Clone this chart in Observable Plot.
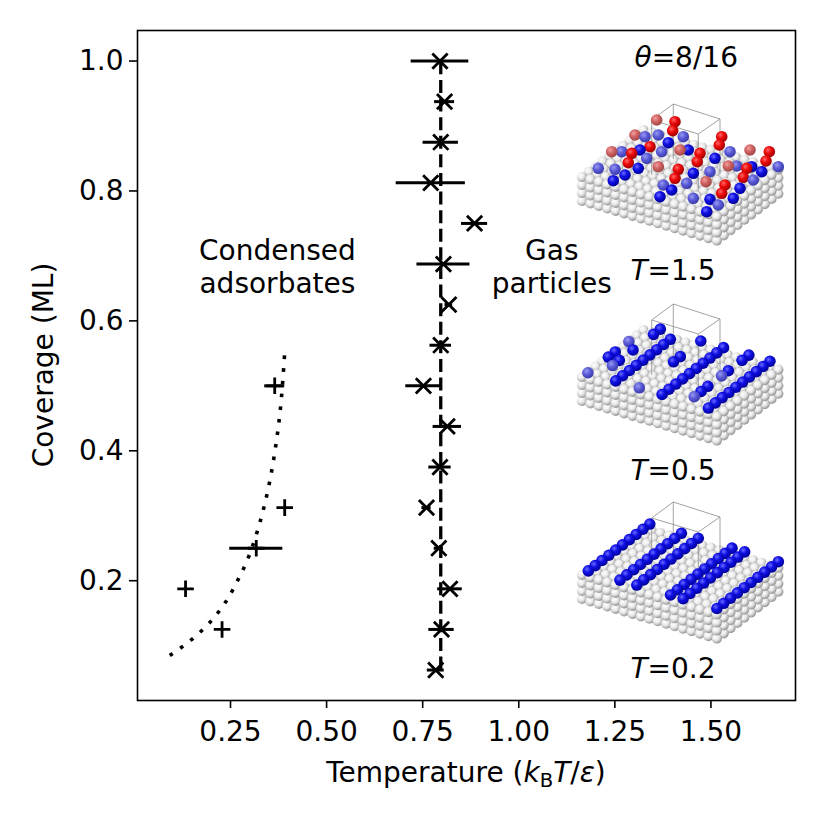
<!DOCTYPE html>
<html><head><meta charset="utf-8">
<script src="https://cdn.jsdelivr.net/npm/d3@7"></script>
<script src="https://cdn.jsdelivr.net/npm/@observablehq/plot@0.6"></script>
<style>body{margin:0;background:#fff;} #chart{width:830px;height:830px;}</style>
</head><body><div id="chart"></div>
<script>
// ---- data ----
const gasTheta = [1.0, 0.9375, 0.875, 0.8125, 0.75, 0.6875, 0.625, 0.5625, 0.5, 0.4375, 0.375, 0.3125, 0.25, 0.1875, 0.125, 0.0625];
const gasT     = [0.795, 0.807, 0.797, 0.771, 0.885, 0.804, 0.818, 0.797, 0.752, 0.814, 0.795, 0.760, 0.792, 0.821, 0.799, 0.784];
const gasErr   = [0.075, 0.026, 0.046, 0.090, 0.034, 0.069, 0.010, 0.028, 0.046, 0.037, 0.029, 0.012, 0.012, 0.032, 0.033, 0.022];
const condTheta = [0.5, 0.3125, 0.25, 0.1875, 0.125];
const condT     = [0.365, 0.391, 0.317, 0.133, 0.228];
const condErr   = [0.026, 0, 0.069, 0, 0];
const curveT     = [0.092, 0.146, 0.195, 0.237, 0.270, 0.298, 0.329, 0.352, 0.369, 0.381, 0.391];
const curveTheta = [0.085, 0.108, 0.135, 0.167, 0.202, 0.238, 0.295, 0.353, 0.413, 0.472, 0.551];
const meanT = 0.797;
const lineTheta = [0.0625, 1.0];
const xTicks = [0.25, 0.5, 0.75, 1.0, 1.25, 1.5];
const yTicks = [0.2, 0.4, 0.6, 0.8, 1.0];
const insetLabels = ["1.5", "0.5", "0.2"];

// inset adsorbates: T=1.5 as local pixel offsets [dx, dy, faded]
const hotBlue = [[16.3,-8.7,1],[31.3,3.7,0],[33,-7.7,1],[39.7,-25.3,1],[43,-2,0],[56.3,-8.7,0],[58,-27,0],[64.7,-18.7,1],[63,-40.3,1],[76.3,-42,1],[78,19.7,0],[81.3,8,1],[86.3,-34.3,0],[79.7,-25.3,1],[89.7,13,0],[104.7,6.3,1],[101.3,-40.3,1],[106.3,-27,0],[111.3,-3.7,0],[111.3,21.3,1],[124.7,34.7,0],[128,22.3,0],[133,-18.7,0],[136.3,28,1],[128,-5.3,1],[148,-25.3,1],[151.3,21.3,0],[154.7,-11,1],[158,11.3,0],[169.7,-10.3,0],[171.3,3,1],[179.7,-5.3,0],[196.3,-10.3,1]];
const hotRed = [[74.7,-57,1],[93,-55.3,0],[90.7,-46.3,0],[139.7,-40.3,0],[137.3,-32,0],[68,-30.3,0],[53,-42,1],[46.3,-14.3,0],[49.7,-23.7,0],[29.7,-25.3,1],[98,-27,1],[118,-23.7,0],[115.3,-15.3,0],[96.3,-7.7,0],[93,1.3,0],[76.3,-10.3,1],[124,4.7,1],[143,8,0],[139.7,16.3,0],[146.3,-11,1],[164.7,-8.7,0],[161.3,0.3,0],[168,-27,1],[187.3,-25.3,0],[184,-16,0]];
// T=0.5: lattice sites [a, [b...], faded b list]
const midRows = [
  [0.7, [0, 3, 4, 6], [0, 6]],
  [2.0, [2, 3, 5, 8, 9], [2]],
  [4.0, [0, 1, 2, 3, 4, 5, 6, 7, 8], []],
  [6.8, [0, 5, 6, 9], [0]],
  [9.5, [0, 1, 2, 3, 4, 5, 6, 7, 8, 9], []],
  [12.5, [1, 2, 3, 5, 6, 8, 9], [1, 5]],
  [15.0, [0, 1, 2, 3, 4, 5, 6, 7, 8, 9], []]
];
// T=0.2: full rows
const coldRows = [0.75, 4.5, 6.5, 10.5, 12, 16];

const gas = gasTheta.map((t, i) => ({theta: t, T: gasT[i], err: gasErr[i]}));
const cond = condTheta.map((t, i) => ({theta: t, T: condT[i], err: condErr[i]}));
const curve = curveT.map((T, i) => ({T, theta: curveTheta[i]}));

const FS = 28;
const chart = Plot.plot({
  width: 830, height: 830,
  marginLeft: 137, marginRight: 35, marginTop: 30, marginBottom: 130,
  style: {fontFamily: "DejaVu Sans, sans-serif", fontSize: FS + "px", background: "white", color: "black", overflow: "visible"},
  x: {domain: [0.008, 1.72]},
  y: {domain: [0.0156, 1.047]},
  marks: [
    Plot.axisX({ticks: xTicks, tickFormat: d => d.toFixed(2), tickSize: 8, tickPadding: 13, strokeWidth: 1.6, label: null, fontSize: FS}),
    Plot.axisY({ticks: yTicks, tickFormat: d => d.toFixed(1), tickSize: 8, tickPadding: 6, strokeWidth: 1.6, label: null, fontSize: FS}),
    Plot.ruleX([meanT], {y1: lineTheta[0], y2: lineTheta[1], stroke: "black", strokeWidth: 3.3, strokeDasharray: "13,5.6", strokeLinecap: "butt"}),
    Plot.ruleY(gas, {y: "theta", x1: d => d.T - d.err, x2: d => d.T + d.err, stroke: "black", strokeWidth: 3}),
    Plot.dot(gas, {x: "T", y: "theta", symbol: "times", r: 7, stroke: "black", strokeWidth: 2.8}),
    Plot.line(curve, {x: "T", y: "theta", curve: "catmull-rom", stroke: "black", strokeWidth: 3.6, strokeDasharray: "3.6,9.1", strokeLinecap: "butt"}),
    Plot.ruleY(cond.filter(d => d.err > 0), {y: "theta", x1: d => d.T - d.err, x2: d => d.T + d.err, stroke: "black", strokeWidth: 3}),
    Plot.dot(cond, {x: "T", y: "theta", symbol: "plus", r: 5.4, stroke: "black", strokeWidth: 2.8}),
    Plot.text(["Condensed\nadsorbates"], {x: 0.372, y: 0.684, text: d => d, fontSize: FS, lineHeight: 1.18, fill: "black"}),
    Plot.text(["Gas\nparticles"], {x: 1.086, y: 0.684, text: d => d, fontSize: FS, lineHeight: 1.18, fill: "black"}),
    Plot.frame({stroke: "black", strokeWidth: 1.6})
  ]
});
document.getElementById("chart").appendChild(chart);

const svg = d3.select(chart);
const xs = chart.scale("x"), ys = chart.scale("y");
// axis labels
const xl = svg.append("text").attr("x", (137 + 795) / 2).attr("y", 782).attr("text-anchor", "middle")
  .attr("font-size", FS).attr("fill", "black");
xl.append("tspan").text("Temperature (");
xl.append("tspan").attr("font-style", "italic").text("k");
xl.append("tspan").attr("font-size", FS * 0.7).attr("dy", 5).text("B");
xl.append("tspan").attr("font-style", "italic").attr("dy", -5).text("T");
xl.append("tspan").text("/");
xl.append("tspan").attr("font-style", "italic").text("ε");
xl.append("tspan").text(")");
svg.append("text").attr("transform", "translate(53," + (30 + 700) / 2 + ") rotate(-90)")
  .attr("text-anchor", "middle").attr("font-size", FS).attr("fill", "black").text("Coverage (ML)");
// theta label
const tl = svg.append("text").attr("x", xs.apply(1.437)).attr("y", ys.apply(1.0) + 6).attr("text-anchor", "middle")
  .attr("font-size", FS).attr("fill", "black");
tl.append("tspan").attr("font-style", "italic").text("θ");
tl.append("tspan").text("=8/16");

// gradients
const defs = svg.append("defs");
function grad(id, stops) {
  const g = defs.append("radialGradient").attr("id", id).attr("cx", "38%").attr("cy", "35%").attr("r", "65%");
  stops.forEach(([o, c]) => g.append("stop").attr("offset", o).attr("stop-color", c));
}
grad("gW", [["0%", "#ffffff"], ["50%", "#e8e8e8"], ["100%", "#969696"]]);
grad("gB", [["0%", "#6a6aff"], ["45%", "#1010e6"], ["100%", "#00009a"]]);
grad("gBf", [["0%", "#9a9af0"], ["50%", "#5a5ad8"], ["100%", "#3c3caa"]]);
grad("gR", [["0%", "#ff6a6a"], ["45%", "#ee0a0a"], ["100%", "#a00000"]]);
grad("gRf", [["0%", "#f0a0a0"], ["50%", "#d06060"], ["100%", "#a04848"]]);

const A = [8.43, 2.47], B = [6.83, -5.2], DZ = 8;
function drawInset(ox, oy, ads) {
  const g = svg.append("g").attr("transform", `translate(${ox},${oy})`);
  const sp = [];
  for (let L = 0; L < 4; L++) for (let a = 0; a <= 16; a++) for (let b = 0; b <= 9; b++) {
    if (L === 0 || b === 0 || a === 16) sp.push({x: a * A[0] + b * B[0], y: a * A[1] + b * B[1] + L * DZ, k: a * A[1] + b * B[1] - L * 0.1});
  }
  sp.sort((p, q) => p.k - q.k);
  g.selectAll(null).data(sp).join("circle").attr("cx", d => d.x).attr("cy", d => d.y).attr("r", 5.1).attr("fill", "url(#gW)");
  // unit cell box
  const top = [[69.7, -57], [91.3, -73], [138, -58], [116.3, -43]];
  g.append("path").attr("d", "M" + top.map(p => p.join(",")).join("L") + "Z").attr("fill", "none").attr("stroke", "#8a8a8a").attr("stroke-width", 0.8);
  top.forEach(p => g.append("line").attr("x1", p[0]).attr("y1", p[1]).attr("x2", p[0]).attr("y2", p[1] + 55).attr("stroke", "#8a8a8a").attr("stroke-width", 0.8));
  ads.sort((p, q) => p.y - q.y);
  g.selectAll(null).data(ads).join("circle").attr("cx", d => d.x).attr("cy", d => d.y).attr("r", 5.8).attr("fill", d => `url(#${d.c})`);
}
const site = (a, b) => ({x: a * A[0] + b * B[0], y: a * A[1] + b * B[1] - 6});
const hotAds = hotBlue.map(([x, y, f]) => ({x, y, c: f ? "gBf" : "gB"})).concat(hotRed.map(([x, y, f]) => ({x, y, c: f ? "gRf" : "gR"})));
const midAds = [];
midRows.forEach(([a, bs, fad]) => bs.forEach(b => midAds.push({...site(a, b), c: fad.includes(b) ? "gBf" : "gB"})));
const coldAds = [];
coldRows.forEach(a => { for (let b = 0; b <= 9; b++) coldAds.push({...site(a, b), c: "gB"}); });
drawInset(582, 177, hotAds);
drawInset(582, 377, midAds);
drawInset(582, 575, coldAds);
[280, 480, 678].forEach((y, i) => {
  const t = svg.append("text").attr("x", 673).attr("y", y).attr("text-anchor", "middle").attr("font-size", FS).attr("fill", "black");
  t.append("tspan").attr("font-style", "italic").text("T");
  t.append("tspan").text("=" + insetLabels[i]);
});
</script></body></html>
